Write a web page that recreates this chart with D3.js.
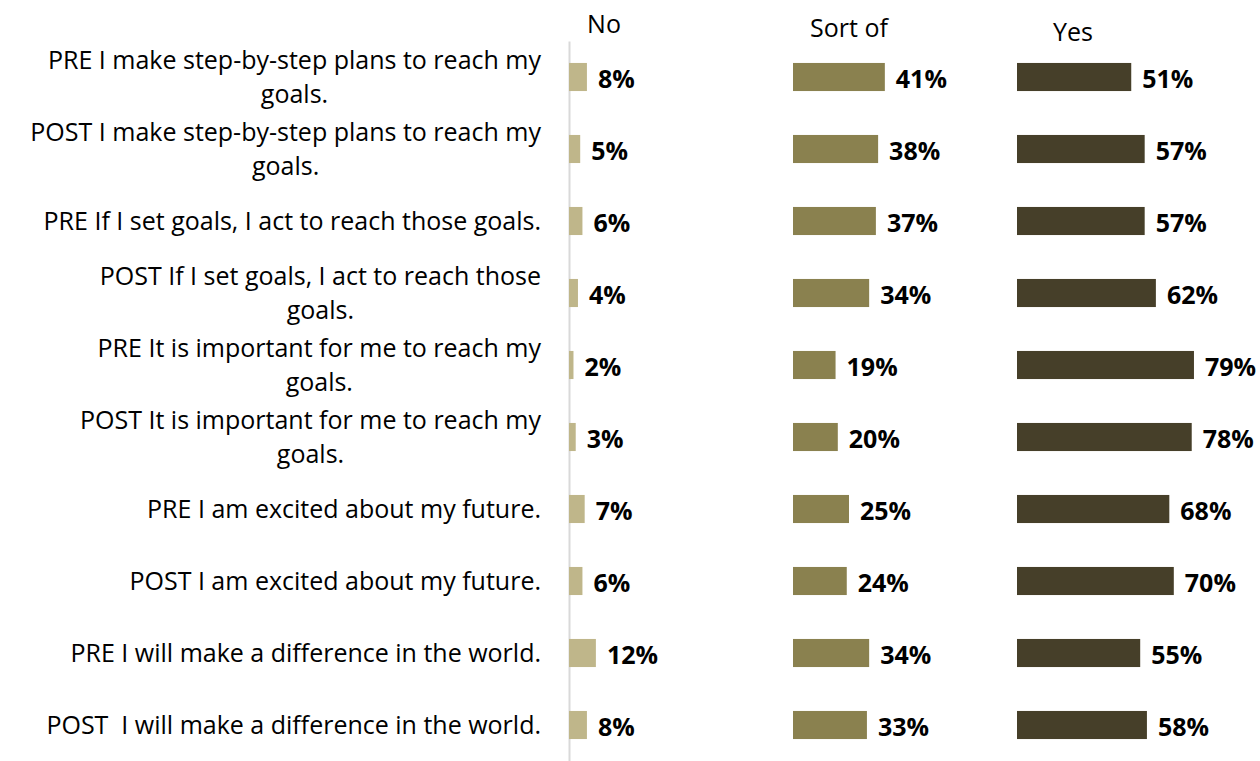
<!DOCTYPE html>
<html>
<head>
<meta charset="utf-8">
<script src="https://cdn.jsdelivr.net/npm/d3@7"></script>
<style>
  body { margin: 0; background: #fff; }
  text { font-family: "Open Sans", Lato, sans-serif; fill: #000; }
</style>
</head>
<body>
<script>
// statements, in chart order (top to bottom), "\n" = line break as in the picture
const statements = [
    "PRE I make step-by-step plans to reach my\ngoals.",
    "POST I make step-by-step plans to reach my\ngoals.",
    "PRE If I set goals, I act to reach those goals.",
    "POST If I set goals, I act to reach those\ngoals.",
    "PRE It is important for me to reach my\ngoals.",
    "POST It is important for me to reach my\ngoals.",
    "PRE I am excited about my future.",
    "POST I am excited about my future.",
    "PRE I will make a difference in the world.",
    "POST  I will make a difference in the world."
];
const responses = ["No", "Sort of", "Yes"];
const noValues = [8, 5, 6, 4, 2, 3, 7, 6, 12, 8];
const sortOfValues = [41, 38, 37, 34, 19, 20, 25, 24, 34, 33];
const yesValues = [51, 57, 57, 62, 79, 78, 68, 70, 55, 58];

const width = 1260, height = 761;
const colors = ["#BFB68A", "#8A814F", "#463F29"];

let svg = d3.select("body")
    .append("svg")
    .attr("width", width)
    .attr("height", height);

// one panel per response, each 0-100%
let panel = d3.scaleBand()
    .domain(responses)
    .range([569, 569 + 3 * 224]);

let x = d3.scaleLinear()
    .domain([0, 100])
    .range([0, panel.bandwidth()]);

let y = d3.scaleBand()
    .domain(statements)
    .range([41, 761])
    .paddingInner(0.61)
    .paddingOuter(0.305);

const series = [noValues, sortOfValues, yesValues];
const fontSize = 25;

// left axis line (no ticks)
svg.append("g")
    .attr("transform", "translate(569,0)")
    .call(d3.axisLeft(y).tickSize(0).tickFormat(""))
    .call(g => g.select(".domain").attr("stroke", "#d9d9d9").attr("stroke-width", 2));

// category labels, right aligned block, lines centered inside it
const labelRight = 541;
const lineH = 34.5;
statements.forEach(function (s) {
    let lines = s.split("\n");
    let t = svg.append("text")
        .style("font-size", fontSize + "px")
        .style("white-space", "pre");
    let spans = lines.map((l, i) => t.append("tspan").text(l));
    let widths = spans.map(sp => sp.node().getComputedTextLength());
    let w = d3.max(widths);
    let cy = y(s) + y.bandwidth() / 2;
    spans.forEach(function (sp, i) {
        sp.attr("x", labelRight - w / 2)
            .attr("text-anchor", "middle")
            .attr("y", cy + (i - (lines.length - 1) / 2) * lineH)
            .attr("dy", "0.35em");
    });
});

// headers
const headerPos = [{ dx: 35, y: 24 }, { dx: 56, y: 28 }, { dx: 56, y: 32 }];
responses.forEach(function (r, i) {
    svg.append("text")
        .attr("x", panel(r) + headerPos[i].dx)
        .attr("y", headerPos[i].y)
        .attr("dy", "0.35em")
        .attr("text-anchor", "middle")
        .style("font-size", fontSize + "px")
        .text(r);
});

// bars + value labels
responses.forEach(function (r, i) {
    let g = svg.append("g").attr("transform", `translate(${panel(r)},0)`);
    g.selectAll("rect")
        .data(series[i])
        .enter()
        .append("rect")
        .attr("x", x(0))
        .attr("y", (d, j) => y(statements[j]))
        .attr("width", d => x(d))
        .attr("height", y.bandwidth())
        .attr("fill", colors[i]);
    g.selectAll("text")
        .data(series[i])
        .enter()
        .append("text")
        .attr("x", d => x(d) + 11)
        .attr("y", (d, j) => y(statements[j]) + y.bandwidth() / 2 + 2)
        .attr("dy", "0.35em")
        .style("font-size", fontSize + "px")
        .style("font-weight", "bold")
        .text(d => d + "%");
});
</script>
</body>
</html>
